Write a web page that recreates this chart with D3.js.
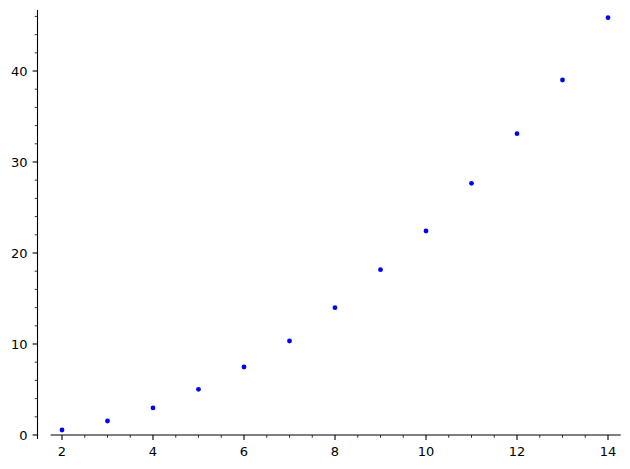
<!DOCTYPE html>
<html>
<head>
<meta charset="utf-8">
<script src="https://cdn.jsdelivr.net/npm/d3@7"></script>
<style>
  body { margin: 0; background: #fff; }
  text { font-family: "DejaVu Sans", sans-serif; font-size: 13px; fill: #000; }
</style>
</head>
<body>
<div id="chart"></div>
<script>
const xs = [2, 3, 4, 5, 6, 7, 8, 9, 10, 11, 12, 13, 14];
const ys = [0.55, 1.54, 2.97, 5.02, 7.47, 10.33, 13.99, 18.17, 22.42, 27.66, 33.11, 39.01, 45.86];
const xTicks = [2, 4, 6, 8, 10, 12, 14];
const yTicks = [0, 10, 20, 30, 40];

const width = 630, height = 469;
const svg = d3.select("#chart").append("svg").attr("width", width).attr("height", height);

const x = d3.scaleLinear().domain([2, 14]).range([62, 608]);
const y = d3.scaleLinear().domain([0, 40]).range([435, 71]);

// spines (sage style: left axis at the frame edge, bottom at y=0)
const x0 = 37.5;
svg.append("line")
    .attr("x1", x0).attr("x2", x0)
    .attr("y1", y(46.7)).attr("y2", y(-0.45))
    .attr("stroke", "#000").attr("stroke-width", 1.1);
svg.append("line")
    .attr("x1", x(1.75)).attr("x2", x(14.28))
    .attr("y1", y(0)).attr("y2", y(0))
    .attr("stroke", "#000").attr("stroke-width", 1.1);

// x ticks
const xMinor = d3.range(1.75, 14.3, 0.25).filter(v => Math.abs(v * 2 - Math.round(v * 2)) < 1e-9 || true)
    .filter(v => Math.abs((v / 0.5) - Math.round(v / 0.5)) < 1e-9 && !xTicks.includes(v));
svg.selectAll(".xminor").data(xMinor).enter().append("line")
    .attr("x1", d => x(d)).attr("x2", d => x(d))
    .attr("y1", y(0)).attr("y2", y(0) + 2.8)
    .attr("stroke", "#000").attr("stroke-width", 0.8);
svg.selectAll(".xmajor").data(xTicks).enter().append("line")
    .attr("x1", d => x(d)).attr("x2", d => x(d))
    .attr("y1", y(0)).attr("y2", y(0) + 4.9)
    .attr("stroke", "#000").attr("stroke-width", 1.1);
svg.selectAll(".xlab").data(xTicks).enter().append("text")
    .attr("x", d => x(d)).attr("y", y(0) + 21)
    .attr("text-anchor", "middle")
    .text(d => d);

// y ticks
const yMinor = d3.range(0, 47, 2).filter(v => !yTicks.includes(v));
svg.selectAll(".yminor").data(yMinor).enter().append("line")
    .attr("x1", x0 - 2.8).attr("x2", x0)
    .attr("y1", d => y(d)).attr("y2", d => y(d))
    .attr("stroke", "#000").attr("stroke-width", 0.8);
svg.selectAll(".ymajor").data(yTicks).enter().append("line")
    .attr("x1", x0 - 4.9).attr("x2", x0)
    .attr("y1", d => y(d)).attr("y2", d => y(d))
    .attr("stroke", "#000").attr("stroke-width", 1.1);
svg.selectAll(".ylab").data(yTicks).enter().append("text")
    .attr("x", x0 - 10).attr("y", d => y(d))
    .attr("dy", "0.36em")
    .attr("text-anchor", "end")
    .text(d => d);

// points
svg.selectAll("circle")
    .data(xs)
    .enter()
    .append("circle")
    .attr("cx", d => x(d))
    .attr("cy", (d, i) => y(ys[i]))
    .attr("r", 2.4)
    .style("fill", "#0000ff");
</script>
</body>
</html>
